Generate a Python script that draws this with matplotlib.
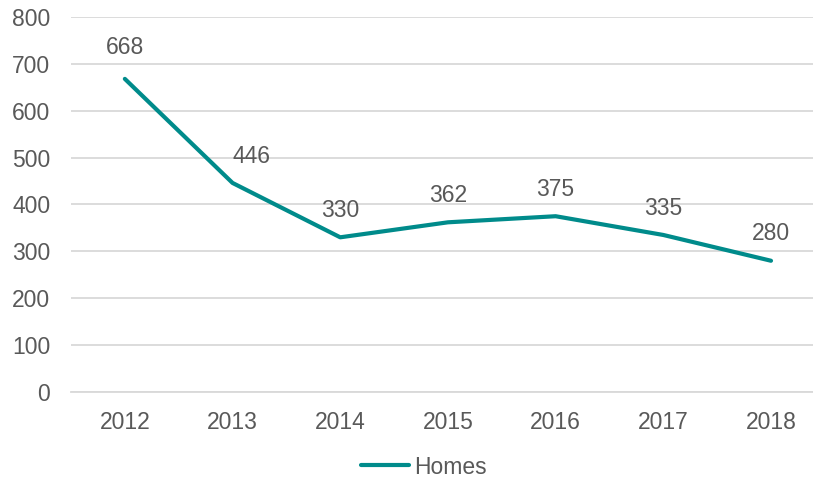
import matplotlib.pyplot as plt
import numpy as np

plt.rcParams["font.family"] = ["Liberation Sans", "DejaVu Sans"]

years = ["2012", "2013", "2014", "2015", "2016", "2017", "2018"]
homes = [668, 446, 330, 362, 375, 335, 280]
y_ticks = [0, 100, 200, 300, 400, 500, 600, 700, 800]

line_color = "#008B8B"
text_color = "#595959"
grid_color = "#D9D9D9"
fs = 16.5

fig = plt.figure(figsize=(8.13, 4.84), dpi=100)
ax = fig.add_axes([71 / 813, 1 - 392 / 484, 1 - 71 / 813, 375 / 484])

x = np.arange(len(years))
ax.plot(x, homes, color=line_color, lw=3, solid_capstyle="round", label="Homes")

# label offsets in points (Excel placed a couple of them a bit differently)
offsets = {0: (0, 14), 1: (14, 11)}
for xi, val in zip(x, homes):
    dx, dy = offsets.get(xi, (0, 11))
    ax.annotate(str(val), (xi, val), xytext=(dx, dy), textcoords="offset points",
                ha="center", va="bottom", fontsize=fs, color=text_color)

ax.set_xlim(-0.5, 6.39)
ax.set_ylim(0, 800)
ax.set_yticks(y_ticks)
ax.set_xticks(x)
ax.set_xticklabels(years)
ax.yaxis.grid(True, color=grid_color, lw=1.3)
ax.set_axisbelow(True)
for side in ["top", "right", "left"]:
    ax.spines[side].set_visible(False)
ax.spines["bottom"].set_color(grid_color)
ax.spines["bottom"].set_linewidth(1.3)
ax.tick_params(axis="both", length=0, labelsize=fs, colors=text_color)
ax.tick_params(axis="y", pad=15)
ax.tick_params(axis="x", pad=14)

fig.legend(loc="center", bbox_to_anchor=(424 / 813, 1 - 467 / 484), frameon=False,
           fontsize=fs, labelcolor=text_color, handlelength=2.1, handletextpad=0.2)

fig.savefig("out.png", dpi=100)
